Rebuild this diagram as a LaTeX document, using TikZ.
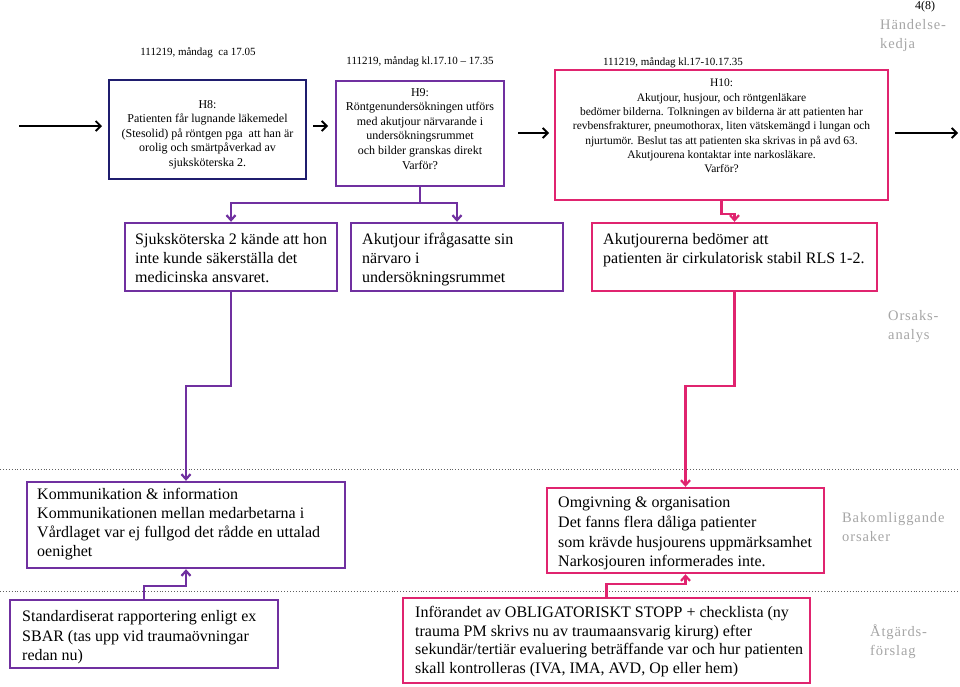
\documentclass[tikz,border=0pt]{standalone}
\usepackage{fontspec}
\setmainfont{Liberation Serif}
\newfontfamily\grayfont[LetterSpace=6]{Liberation Serif}
\usetikzlibrary{arrows.meta,calc}
\definecolor{navyc}{HTML}{1F1D6E}
\definecolor{purp}{HTML}{7030A0}
\definecolor{pinkc}{HTML}{E0246F}
\definecolor{grayt}{HTML}{A6A6A6}
\definecolor{dotc}{HTML}{606060}
\tikzset{
  nbox/.style={draw=navyc, line width=2.4pt, inner sep=0pt},
  pbox/.style={draw=purp, line width=2.4pt, inner sep=0pt},
  kbox/.style={draw=pinkc, line width=2.4pt, inner sep=0pt},
  toptxt/.style={inner sep=0pt, align=center, font=\fontsize{12}{14.6}\selectfont},
  datetxt/.style={inner sep=0pt, font=\fontsize{11}{13}\selectfont},
  midtxt/.style={inner sep=0pt, align=left, anchor=north west, font=\fontsize{16}{19}\selectfont},
  graytxt/.style={inner sep=0pt, align=left, anchor=north west, text=grayt, font=\grayfont\fontsize{14.5}{19}\selectfont},
  barrow/.style={draw=black, line width=1.8pt, -{Straight Barb[length=5pt,width=10pt]}},
  pconn/.style={draw=purp, line width=2.2pt},
  kconn/.style={draw=pinkc, line width=2.2pt},
  parrow/.style={pconn, -{Straight Barb[length=5pt,width=9pt]}},
  karrow/.style={kconn, -{Straight Barb[length=5pt,width=9pt]}},
  sepline/.style={draw=dotc, line width=0.9pt, dotted}
}
\begin{document}
\begin{tikzpicture}[x=1pt,y=-1pt]
\useasboundingbox[fill=white] (0,0) rectangle (960,686);

% separators
\draw[sepline] (0,469) -- (960,469);
\draw[sepline] (0,591) -- (960,591);

% top row boxes
\node[nbox, minimum width=197pt, minimum height=99pt] (h8) at (207.5,129.5) {};
\node[pbox, minimum width=168pt, minimum height=105pt] (h9) at (420,133.5) {};
\node[kbox, minimum width=333pt, minimum height=130pt] (h10) at (721.5,135) {};

\node[toptxt, anchor=north] (h8t) at (207.5,100) {H8:\\Patienten får lugnande läkemedel\\(Stesolid) på röntgen pga\ \ att han är\\orolig och smärtpåverkad av\\sjuksköterska 2.};
\node[toptxt, anchor=north] (h9t) at (420,88) {H9:\\Röntgenundersökningen utförs\\med akutjour närvarande i\\undersökningsrummet\\och bilder granskas direkt\\Varför?};
\node[toptxt, anchor=north, font=\fontsize{11.5}{14.3}\selectfont] (h10t) at (721.5,79) {H10:\\Akutjour, husjour, och röntgenläkare\\bedömer bilderna. Tolkningen av bilderna är att patienten har\\revbensfrakturer, pneumothorax, liten vätskemängd i lungan och\\njurtumör. Beslut tas att patienten ska skrivas in på avd 63.\\Akutjourena kontaktar inte narkosläkare.\\Varför?};

\node[datetxt] (d8) at (198,53) {111219, måndag\ \ ca 17.05};
\node[datetxt] (d9) at (420,62) {111219, måndag kl.17.10 – 17.35};
\node[datetxt] (d10) at (673,63) {111219, måndag kl.17-10.17.35};
\node[inner sep=0pt, font=\fontsize{12}{14}\selectfont] (pg) at (925,7) {4(8)};

% top arrows
\coordinate (a0) at (19,126);
\coordinate (a1) at (102,126);
\coordinate (a2) at (313,126);
\coordinate (a3) at (328,126);
\coordinate (a4) at (518,133);
\coordinate (a5) at (549,133);
\coordinate (a6) at (895,133);
\coordinate (a7) at (958,133);
\draw[barrow] (a0) -- (a1);
\draw[barrow] (a2) -- (a3);
\draw[barrow] (a4) -- (a5);
\draw[barrow] (a6) -- (a7);

% middle row
\node[pbox, minimum width=212pt, minimum height=68pt] (sjuk) at (231,257) {};
\node[pbox, minimum width=212pt, minimum height=68pt] (akut) at (457,257) {};
\node[kbox, minimum width=285pt, minimum height=68pt] (akb) at (734.5,257) {};
\node[midtxt] (sjukt) at (135,231) {\strut Sjuksköterska 2 kände att hon\\inte kunde säkerställa det\\medicinska ansvaret.};
\node[midtxt] (akutt) at (362,231) {\strut Akutjour ifrågasatte sin\\närvaro i\\undersökningsrummet};
\node[midtxt] (akbt) at (603,231) {\strut Akutjourerna bedömer att\\patienten är cirkulatorisk stabil RLS 1-2.};

\draw[parrow] (h9.south) |- ($(sjuk.north)+(0,-19)$) -- (sjuk.north);
\draw[parrow] (h9.south) |- ($(akut.north)+(0,-19)$) -- (akut.north);
\draw[karrow] (h10.south) -- ++(0,13) -| (akb.north);

% causes
\node[pbox, minimum width=318pt, minimum height=86pt] (komm) at (186,525) {};
\node[kbox, minimum width=277pt, minimum height=85pt] (omg) at (685.5,530.5) {};
\node[midtxt] (kommt) at (37,486) {\strut Kommunikation \& information\\Kommunikationen mellan medarbetarna i\\Vårdlaget var ej fullgod det rådde en uttalad\\oenighet};
\node[midtxt, font=\fontsize{16}{19.6}\selectfont] (omgt) at (558,494) {\strut Omgivning \& organisation\\Det fanns flera dåliga patienter\\som krävde husjourens uppmärksamhet\\Narkosjouren informerades inte.};

\draw[parrow] (sjuk.south) -- ++(0,94) -| (komm.north);
\draw[karrow] (akb.south) -- ++(0,94) -| (omg.north);

% actions
\node[pbox, minimum width=268pt, minimum height=68pt] (std) at (144,634) {};
\node[kbox, minimum width=407pt, minimum height=85pt] (inf) at (606.5,640.5) {};
\node[midtxt, font=\fontsize{16}{19.5}\selectfont] (stdt) at (22,608) {\strut Standardiserat rapportering enligt ex\\SBAR (tas upp vid traumaövningar\\redan nu)};
\node[midtxt, font=\fontsize{16}{18.7}\selectfont] (inft) at (415,604) {\strut Införandet av OBLIGATORISKT STOPP + checklista (ny\\trauma PM skrivs nu av traumaansvarig kirurg) efter\\sekundär/tertiär evaluering beträffande var och hur patienten\\skall kontrolleras (IVA, IMA, AVD, Op eller hem)};

\draw[parrow] (std.north) -- ++(0,-13) -| (komm.south);
\draw[karrow] (inf.north) -- ++(0,-13) -| (omg.south);

% side labels
\node[graytxt] (l1) at (880,19) {Händelse-\\kedja};
\node[graytxt] (l2) at (888,310) {Orsaks-\\analys};
\node[graytxt] (l3) at (842,512) {Bakomliggande\\orsaker};
\node[graytxt] (l4) at (870,624) {Åtgärds-\\förslag};
\end{tikzpicture}
\end{document}
